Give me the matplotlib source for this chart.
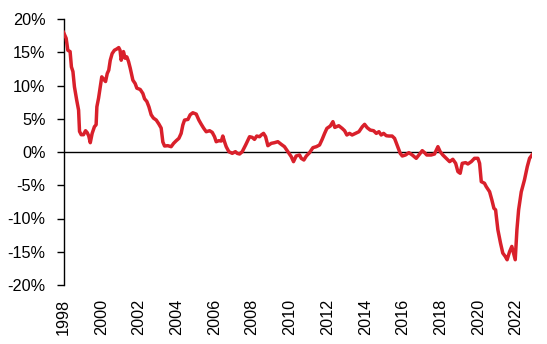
import matplotlib
matplotlib.use("Agg")
import matplotlib.pyplot as plt
from matplotlib.ticker import FuncFormatter

years = [
    1998.00, 1998.14, 1998.23, 1998.35, 1998.42, 1998.50, 1998.58, 1998.70, 1998.80, 1998.85,
    1998.94, 1999.06, 1999.17, 1999.26, 1999.34, 1999.42, 1999.52, 1999.64, 1999.73, 1999.77,
    1999.86, 1999.95, 2000.03, 2000.14, 2000.23, 2000.32, 2000.40, 2000.48, 2000.58, 2000.70,
    2000.83, 2000.93, 2001.00, 2001.06, 2001.18, 2001.27, 2001.36, 2001.45, 2001.54, 2001.68,
    2001.80, 2001.89, 2002.07, 2002.21, 2002.30, 2002.42, 2002.53, 2002.65, 2002.77, 2002.92,
    2003.06, 2003.18, 2003.27, 2003.36, 2003.53, 2003.71, 2003.84, 2003.98, 2004.12, 2004.24,
    2004.33, 2004.42, 2004.60, 2004.72, 2004.86, 2005.04, 2005.18, 2005.30, 2005.43, 2005.57,
    2005.75, 2005.89, 2006.01, 2006.10, 2006.24, 2006.37, 2006.45, 2006.54, 2006.63, 2006.77,
    2006.95, 2007.12, 2007.21, 2007.34, 2007.48, 2007.66, 2007.87, 2008.01, 2008.13, 2008.25,
    2008.40, 2008.49, 2008.61, 2008.72, 2008.84, 2009.02, 2009.19, 2009.37, 2009.55, 2009.72,
    2009.90, 2010.08, 2010.20, 2010.34, 2010.52, 2010.61, 2010.75, 2010.88, 2011.05, 2011.23,
    2011.41, 2011.58, 2011.72, 2011.85, 2011.97, 2012.15, 2012.29, 2012.39, 2012.60, 2012.78,
    2012.91, 2013.03, 2013.17, 2013.31, 2013.49, 2013.67, 2013.85, 2013.97, 2014.11, 2014.27,
    2014.45, 2014.59, 2014.73, 2014.85, 2014.98, 2015.12, 2015.26, 2015.43, 2015.56, 2015.73,
    2015.86, 2015.97, 2016.14, 2016.32, 2016.50, 2016.71, 2016.89, 2017.03, 2017.15, 2017.27,
    2017.50, 2017.68, 2017.86, 2017.98, 2018.12, 2018.30, 2018.48, 2018.65, 2018.80, 2018.92,
    2019.04, 2019.15, 2019.33, 2019.45, 2019.63, 2019.80, 2019.98, 2020.07, 2020.16, 2020.33,
    2020.42, 2020.60, 2020.72, 2020.83, 2020.92, 2020.95, 2021.04, 2021.18, 2021.30, 2021.43,
    2021.53, 2021.66, 2021.78, 2021.87, 2021.96, 2022.05, 2022.14, 2022.28, 2022.45, 2022.60,
    2022.72, 2022.85,
]

values = [
    18.0, 17.1, 15.3, 15.1, 12.8, 12.1, 9.8, 7.8, 6.3, 3.1,
    2.6, 2.6, 3.2, 2.9, 2.4, 1.4, 2.8, 3.8, 4.1, 6.8,
    8.1, 9.8, 11.3, 10.9, 10.6, 11.8, 12.3, 13.8, 14.8, 15.3,
    15.5, 15.7, 15.3, 13.8, 15.1, 14.1, 14.3, 13.6, 12.6, 10.8,
    10.3, 9.6, 9.4, 8.8, 8.0, 7.6, 6.8, 5.6, 5.1, 4.8,
    4.2, 3.6, 1.5, 0.9, 0.95, 0.8, 1.3, 1.7, 2.05, 2.8,
    4.06, 4.8, 4.9, 5.6, 5.9, 5.7, 4.8, 4.2, 3.6, 3.05,
    3.2, 2.95, 2.3, 1.55, 1.7, 1.65, 2.4, 1.55, 0.8, 0.05,
    -0.2, 0.05, -0.2, -0.3, 0.05, 1.05, 2.3, 2.2, 1.9, 2.4,
    2.3, 2.56, 2.8, 2.3, 0.95, 1.3, 1.4, 1.55, 1.15, 0.8,
    0.05, -0.7, -1.45, -0.6, -0.45, -0.95, -1.2, -0.6, -0.1, 0.65,
    0.8, 1.05, 1.9, 2.8, 3.55, 3.9, 4.56, 3.7, 3.95, 3.55,
    3.2, 2.56, 2.8, 2.56, 2.8, 3.05, 3.8, 4.16, 3.65, 3.3,
    3.2, 2.8, 3.05, 2.56, 2.8, 2.45, 2.4, 2.4, 2.05, 0.8,
    -0.2, -0.6, -0.45, -0.1, -0.45, -0.95, -0.3, 0.2, -0.1, -0.45,
    -0.45, -0.3, 0.8, 0.05, -0.45, -0.95, -1.45, -1.1, -1.7, -2.95,
    -3.2, -1.7, -1.6, -1.8, -1.45, -0.95, -0.95, -1.7, -4.46, -4.7,
    -5.2, -5.97, -7.2, -8.47, -8.7, -9.5, -11.7, -13.7, -15.2, -15.7,
    -16.2, -15.0, -14.2, -15.2, -16.2, -11.7, -8.7, -6.0, -4.2, -2.2,
    -0.95, -0.45,
]

x_ticks = [1998, 2000, 2002, 2004, 2006, 2008, 2010, 2012, 2014, 2016, 2018, 2020, 2022]
y_ticks = [-20, -15, -10, -5, 0, 5, 10, 15, 20]

plt.rcParams['font.family'] = ['Liberation Sans', 'DejaVu Sans']

fig = plt.figure(figsize=(5.47, 3.44), dpi=100)
ax = fig.add_axes([63.5 / 547, 1 - 285 / 344, (532 - 63.5) / 547, (285 - 19) / 344])

ax.plot(years, values, color='#D9202B', linewidth=2.5, solid_joinstyle='round', zorder=3)
ax.axhline(0, color='black', linewidth=1.0, zorder=2)

ax.set_xlim(1998, 2022.85)
ax.set_ylim(-20, 20)
ax.set_yticks(y_ticks)
ax.yaxis.set_major_formatter(FuncFormatter(lambda v, p: f"{int(v)}%"))
ax.set_xticks(x_ticks)
ax.set_xticklabels([str(t) for t in x_ticks], rotation=90)

for s in ['top', 'right', 'bottom']:
    ax.spines[s].set_visible(False)
ax.spines['left'].set_linewidth(1.0)
ax.tick_params(axis='y', direction='out', length=5, width=1.0, pad=8, labelsize=11.7, colors='black')
ax.tick_params(axis='x', length=0, pad=10, labelsize=11.7)

fig.savefig('out.png', dpi=100)
